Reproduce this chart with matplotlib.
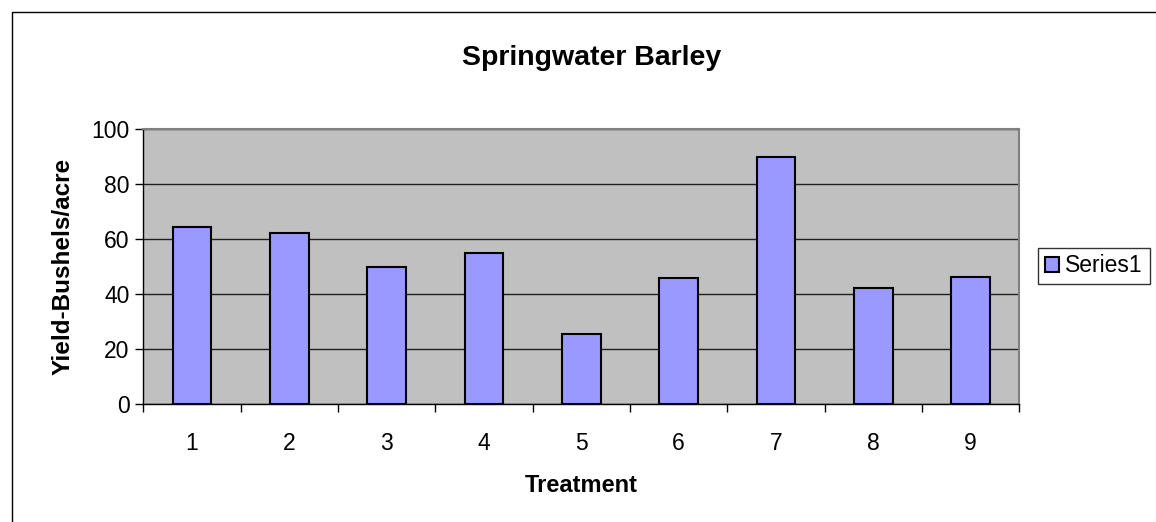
import matplotlib.pyplot as plt
from matplotlib.patches import Rectangle
import numpy as np

# data
treatments = ['1', '2', '3', '4', '5', '6', '7', '8', '9']
yields = [64.5, 62.1, 49.9, 54.8, 25.3, 45.8, 89.9, 42.1, 46.2]

plt.rcParams['font.family'] = ['Liberation Sans', 'DejaVu Sans']

W, H = 1156, 522
fig = plt.figure(figsize=(W / 100, H / 100), dpi=100)

# outer chart frame (left and top edges visible)
fig.patches.append(Rectangle((12 / W, -0.1), 1.2, (H - 12) / H + 0.1,
                             transform=fig.transFigure, fill=False,
                             edgecolor='black', linewidth=1.0))

ax = fig.add_axes([143.3 / W, (H - 404) / H, (1019.3 - 143.3) / W, (404 - 129) / H])
ax.set_facecolor('#C0C0C0')

x = np.arange(len(treatments))
ax.bar(x, yields, width=0.4, color='#9999FF', edgecolor='black',
       linewidth=1.5, label='Series1', zorder=3)

ax.set_xlim(-0.5, len(treatments) - 0.5)
ax.set_ylim(0, 100)
ax.set_yticks(np.arange(0, 101, 20))
ax.yaxis.grid(True, color='#202020', linewidth=1.0, zorder=1)
ax.set_axisbelow(True)

ax.set_xticks(x)
ax.set_xticklabels(treatments)
ax.set_xticks(np.arange(-0.5, len(treatments)), minor=True)
ax.tick_params(axis='x', which='major', length=0, pad=20, labelsize=16.5)
ax.tick_params(axis='x', which='minor', length=6, width=1, direction='out')
ax.tick_params(axis='y', length=6, width=1, direction='out', pad=4, labelsize=16.5)

for side in ['top', 'right']:
    ax.spines[side].set_color('#808080')
    ax.spines[side].set_linewidth(1.5)
for side in ['left', 'bottom']:
    ax.spines[side].set_color('black')
    ax.spines[side].set_linewidth(1.0)

ax.set_xlabel('Treatment', fontsize=17, fontweight='bold', labelpad=14)
ax.set_ylabel('Yield-Bushels/acre', fontsize=17.5, fontweight='bold', labelpad=12)
fig.text(592 / W, 1 - 58 / H, 'Springwater Barley', ha='center', va='center',
         fontsize=20.5, fontweight='bold')

leg = fig.legend(loc='center left', bbox_to_anchor=(1037.7 / W, 1 - 266 / H),
                 fontsize=16.5, frameon=True, fancybox=False, edgecolor='black',
                 handlelength=0.65, handleheight=0.65, handletextpad=0.25,
                 borderpad=0.3, borderaxespad=0)
leg.get_frame().set_linewidth(1.0)

fig.savefig('out.png', dpi=100)
